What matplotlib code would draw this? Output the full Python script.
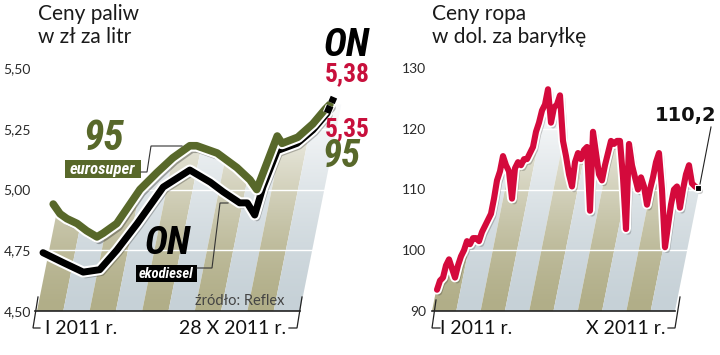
import math
import numpy as np
import matplotlib
matplotlib.use("Agg")
import matplotlib.pyplot as plt
import matplotlib.patheffects as pe
from matplotlib.patches import Polygon, Rectangle
from matplotlib.transforms import Affine2D
from matplotlib import font_manager as fm

# ---------------- data ----------------
fuel95_weeks = [1.5, 2.5, 3.5, 5.0, 6.4, 7.9, 8.8, 10.8, 14.2, 16.7, 19.0, 21.5, 22.5,
                25.5, 28.4, 30.3, 31.3, 34.3, 35.0, 37.3, 39.5, 41.3, 42.0]
fuel95_price = [4.94, 4.90, 4.88, 4.86, 4.83, 4.805, 4.82, 4.86, 5.00, 5.07, 5.13, 5.18, 5.18,
                5.15, 5.09, 5.04, 5.00, 5.22, 5.19, 5.215, 5.27, 5.33, 5.35]
on_weeks = [0, 2.9, 5.9, 8.3, 10.8, 13.8, 17.6, 21.5, 24.5, 26.4, 28.8, 29.9, 31.0, 32.2,
            34.3, 37.2, 39.5, 41.6, 42.6]
on_price = [4.74, 4.70, 4.66, 4.67, 4.75, 4.86, 5.01, 5.08, 5.03, 4.99, 4.945, 4.945, 4.895,
            5.01, 5.16, 5.19, 5.245, 5.315, 5.38]

oil_price = [93.5, 95, 95.5, 97.5, 98.5, 97, 95.5, 97.5, 99, 100,
             101.5, 101, 102, 102, 101.5, 103, 104, 105, 106, 108.5,
             111.5, 113, 115.5, 114, 113, 108.5, 113.5, 114.5, 114, 115,
             115, 116, 117, 119.5, 121, 123, 124, 126.5, 121, 123.5,
             124, 125.5, 118, 115.5, 112.5, 110.5, 114.5, 116, 115, 116.5,
             117, 106.5, 119.5, 116, 112.5, 111.5, 114, 116, 118, 117.5,
             118, 118, 112, 103.5, 117.5, 114, 112, 110, 112, 110.5,
             107.5, 110, 112, 114.5, 116, 110, 100.5, 104, 107.5, 110,
             110.5, 107, 110, 112.5, 114, 111, 110.5, 110.2]
oil_x = list(range(len(oil_price)))

fuel_ticks = [4.50, 4.75, 5.00, 5.25, 5.50]
fuel_ticklabels = ["4,50", "4,75", "5,00", "5,25", "5,50"]
oil_ticks = [90, 100, 110, 120, 130]
oil_ticklabels = ["90", "100", "110", "120", "130"]

# ---------------- style ----------------
GREEN = "#58682a"
CRIMSON = "#c8103c"
RED = "#d40a3c"
OLIVE = "#b1ae88"
BLUEGRAY = "#c6d1d7"
LIGHT = ["Lato", "DejaVu Sans"]

# choose a condensed bold family if one is installed
_fonts = fm.fontManager.ttflist
_names = {f.name for f in _fonts}
NARROW, STRETCH = ["Liberation Sans", "DejaVu Sans"], "normal"
if "Liberation Sans Narrow" in _names:
    NARROW, STRETCH = ["Liberation Sans Narrow", "DejaVu Sans"], "normal"
elif "Roboto Condensed" in _names:
    NARROW, STRETCH = ["Roboto Condensed", "DejaVu Sans"], "normal"
elif any(f.name == "DejaVu Sans" and str(f.stretch) == "condensed" for f in _fonts):
    NARROW, STRETCH = ["DejaVu Sans"], "condensed"

W, H = 720, 355
fig = plt.figure(figsize=(7.2, 3.55), dpi=100)
fig.patch.set_facecolor("white")


def px_axes(x0, x1, ytop, ybot):
    return fig.add_axes([x0 / W, (H - ybot) / H, (x1 - x0) / W, (ybot - ytop) / H])


def setup(ax, xlim, ylim, ticks, labels, spine_bounds):
    ax.set_xlim(*xlim)
    ax.set_ylim(*ylim)
    ax.set_facecolor("none")
    for s in ["top", "right", "left"]:
        ax.spines[s].set_visible(False)
    ax.spines["bottom"].set_bounds(*spine_bounds)
    ax.spines["bottom"].set_color("#222222")
    ax.spines["bottom"].set_linewidth(1.2)
    ax.set_xticks([])
    ax.set_yticks(ticks)
    ax.set_yticklabels(labels, family=LIGHT, fontsize=10, color="#2a2a2a")
    ax.tick_params(axis="y", length=0, pad=3)


def background(ax, xs0, xs1, nstripes, ylo, yhi, clip_x, clip_y):
    fig.canvas.draw()
    X0, Y0 = ax.transData.transform((xs0, ylo))
    shear = Affine2D().translate(-X0, -Y0).skew(math.atan(0.2), 0).translate(X0, Y0)
    xl = ax.get_xlim()
    verts = [(xl[0] - 5, ylo), (xl[0] - 5, clip_y[0])] + list(zip(clip_x, clip_y)) + \
            [(xl[1] + 50, clip_y[-1]), (xl[1] + 50, ylo)]
    clip = Polygon(verts, closed=True, transform=ax.transData)
    edges = np.linspace(xs0, xs1, nstripes + 1)
    for i in range(nstripes):
        r = Rectangle((edges[i], ylo), edges[i + 1] - edges[i], yhi - ylo,
                      facecolor=OLIVE if i % 2 == 0 else BLUEGRAY, edgecolor="none",
                      transform=ax.transData + shear, zorder=1)
        ax.add_patch(r)
        r.set_clip_path(clip)
    t = np.linspace(0, 1, 256)
    a = np.clip(t / 0.85, 0, 1) ** 1.4 * 0.92
    img = np.ones((256, 2, 4))
    img[:, :, 3] = a[:, None]
    ax.imshow(img, extent=[xl[0], xl[1], ylo, yhi], origin="lower", aspect="auto",
              zorder=2, interpolation="bilinear")
    ax.set_xlim(*xl)
    ax.set_ylim(ylo, yhi)


# ---------------- left: fuel ----------------
ax1 = px_axes(35, 350, 68, 311)
setup(ax1, (-1.17, 44.95), (4.5, 5.5), fuel_ticks, fuel_ticklabels, (-1.17, 37.63))
env_x = [on_weeks[0]] + fuel95_weeks
env_y = [on_price[0]] + fuel95_price
background(ax1, -0.88, 37.63, 10, 4.5, 5.5, env_x, env_y)
for yv in fuel_ticks[1:-1]:
    ax1.axhline(yv, color="white", lw=1.0, zorder=3)

ax1.plot(on_weeks[:-1], on_price[:-1], color="black", lw=5.0, solid_capstyle="round",
         solid_joinstyle="round", zorder=4, clip_on=False,
         path_effects=[pe.SimpleLineShadow(offset=(1.5, -2), shadow_color="black", alpha=0.25),
                       pe.Stroke(linewidth=8, foreground="white"), pe.Normal()])
ax1.plot(fuel95_weeks, fuel95_price, color=GREEN, lw=5.5, solid_capstyle="round",
         solid_joinstyle="round", zorder=5, clip_on=False,
         path_effects=[pe.SimpleLineShadow(offset=(1.5, -2.5), shadow_color="black", alpha=0.3),
                       pe.Stroke(linewidth=8.5, foreground="white"), pe.Normal()])
ax1.plot(on_weeks[-2:], on_price[-2:], color="black", lw=5.0, ls=(0, (1.1, 0.5)),
         dash_capstyle="butt", zorder=6, clip_on=False,
         path_effects=[pe.Stroke(linewidth=6.5, foreground="white"), pe.Normal()])

# ---------------- right: oil ----------------
ax2 = px_axes(432, 712, 68, 311)
setup(ax2, (-1.667, 91.67), (90, 130), oil_ticks, oil_ticklabels, (-1.667, 79.33))
ax2.tick_params(axis="y", pad=4)
background(ax2, -1.667, 79.33, 10, 90, 130, oil_x, oil_price)
for yv in oil_ticks[1:-1]:
    ax2.axhline(yv, color="white", lw=1.0, zorder=3)
ax2.plot(oil_x, oil_price, color=RED, lw=4.4, solid_joinstyle="round", solid_capstyle="round",
         zorder=4, clip_on=False,
         path_effects=[pe.SimpleLineShadow(offset=(1.5, -2), shadow_color="black", alpha=0.2),
                       pe.Stroke(linewidth=7, foreground="white"), pe.Normal()])
ax2.plot(oil_x[-1], oil_price[-1], marker="s", color="black", ms=5, zorder=6, clip_on=False,
         markeredgecolor="white", markeredgewidth=0.8)

# ---------------- overlay: texts & decorations ----------------
ov = fig.add_axes([0, 0, 1, 1], zorder=10)
ov.set_xlim(0, W)
ov.set_ylim(H, 0)
ov.axis("off")
ov.patch.set_alpha(0)
renderer = fig.canvas.get_renderer()


def txt(x, y, s, **kw):
    kw.setdefault("va", "baseline")
    return ov.text(x, y, s, **kw)


def fit(x, y, s, width, size, **kw):
    """Condensed bold label; shrink the size if the installed font is too wide."""
    t = txt(x, y, s, family=NARROW, fontstretch=STRETCH, fontweight="bold", fontsize=size, **kw)
    w = t.get_window_extent(renderer).width
    if w > width:
        t.set_fontsize(size * width / w)
    return t


def line(pts, **kw):
    xs, ys = zip(*pts)
    ov.plot(xs, ys, solid_joinstyle="miter", **kw)


# titles
for x0, l1, l2 in [(38, "Ceny paliw", "w zł za litr"), (432, "Ceny ropa", "w dol. za baryłkę")]:
    txt(x0, 20, l1, family=LIGHT, fontsize=15, color="#1a1a1a")
    txt(x0, 43, l2, family=LIGHT, fontsize=15, color="#1a1a1a")

# bottom labels
lab = dict(family=LIGHT, fontsize=14, color="#111111")
txt(45, 334, "I 2011 r.", **lab)
txt(286, 334, "28 X 2011 r.", ha="right", **lab)
txt(440, 334, "I 2011 r.", **lab)
txt(665, 334, "X 2011 r.", ha="right", **lab)
txt(195, 305, "źródło: Reflex", family=LIGHT, fontsize=10.5, color="#444444")

# axis end brackets
dk = dict(color="#222222", lw=0.9)
line([(38, 297), (33, 328), (40, 328)], **dk)
line([(302, 297), (297, 328), (289, 328)], **dk)
line([(436, 300), (432, 328), (440, 328)], **dk)
line([(680, 297), (675, 328), (668, 328)], **dk)

# series labels (left)
fit(83, 150, "95", 42, 30, style="italic", color=GREEN)
ov.add_patch(Rectangle((65, 160), 76, 18, facecolor=GREEN, edgecolor="none"))
fit(103, 169.5, "eurosuper", 68, 12, style="italic", color="white", ha="center", va="center")
line([(141, 172), (147, 172), (151, 146), (182, 146)], color="#333333", lw=0.8)

fit(145, 254, "ON", 46, 31, style="italic", color="black")
ov.add_patch(Rectangle((136, 265), 61, 17, facecolor="black", edgecolor="none"))
fit(166.5, 274, "ekodiesel", 55, 12, style="italic", color="white", ha="center", va="center")
line([(197, 268), (212, 268), (220, 203), (228, 203)], color="#333333", lw=0.8)

# end labels (left)
fit(324, 56, "ON", 46, 29, style="italic", color="black")
fit(325, 81, "5,38", 45, 19, color=CRIMSON)
fit(325, 136, "5,35", 45, 19, color=CRIMSON)
fit(322, 167, "95", 46, 28, style="italic", color=GREEN)

# oil end label
txt(655, 121, "110,2", family=["DejaVu Sans"], fontweight="bold", fontsize=14, color="#111111")
line([(700, 184), (711, 127)], color="#222222", lw=0.8)

fig.savefig("out.png", dpi=100, facecolor="white")
